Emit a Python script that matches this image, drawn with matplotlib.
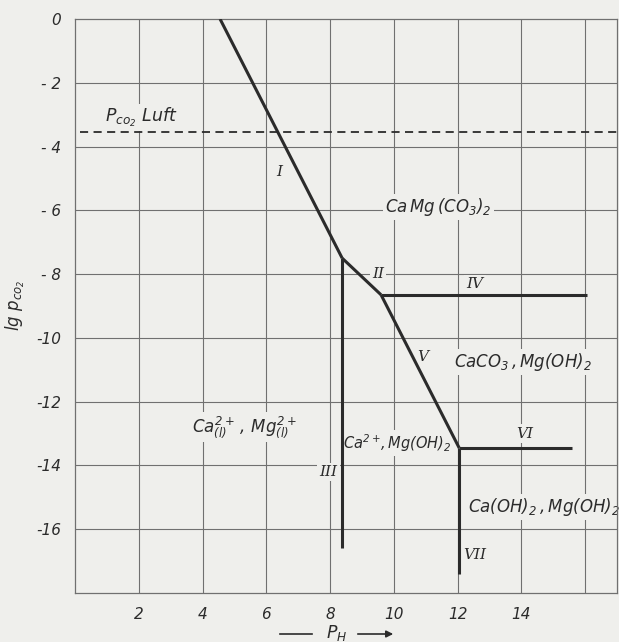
import matplotlib
matplotlib.use("Agg")
import matplotlib.pyplot as plt
from matplotlib.lines import Line2D

BG = "#efefec"
INK = "#2b2b2b"
GRID = "#707070"

plt.rcParams["font.family"] = ["DejaVu Sans"]
plt.rcParams["font.style"] = "italic"
plt.rcParams["mathtext.default"] = "it"

# Phase boundaries of the CaO-MgO-CO2-H2O system (pH, lg pCO2)
line_I_ph = [4.55, 8.38]
line_I_lg = [0.0, -7.5]
line_II_ph = [8.38, 9.6]
line_II_lg = [-7.5, -8.65]
line_III_ph = [8.38, 8.38]
line_III_lg = [-7.5, -16.6]
line_IV_ph = [9.6, 16.05]
line_IV_lg = [-8.65, -8.65]
line_V_ph = [9.6, 12.05]
line_V_lg = [-8.65, -13.45]
line_VI_ph = [12.05, 15.6]
line_VI_lg = [-13.45, -13.45]
line_VII_ph = [12.05, 12.05]
line_VII_lg = [-13.45, -17.4]

# CO2 partial pressure of air
lg_pco2_air = -3.55

x_ticks = [2, 4, 6, 8, 10, 12, 14]
y_ticks = [0, -2, -4, -6, -8, -10, -12, -14, -16]
y_tick_labels = ["0", "- 2", "- 4", "- 6", "- 8", "-10", "-12", "-14", "-16"]

boundary_names = ["I", "II", "III", "IV", "V", "VI", "VII"]
boundary_name_ph = [6.4, 9.5, 7.95, 12.55, 10.9, 14.1, 12.55]
boundary_name_lg = [-4.8, -8.0, -14.2, -8.3, -10.6, -13.0, -16.8]

field_labels = [
    r"$Ca\,Mg\,(CO_3)_2$",
    r"$CaCO_3\,,Mg(OH)_2$",
    r"$Ca^{2+}\!,Mg(OH)_2$",
    r"$Ca(OH)_2\,,Mg(OH)_2$",
    r"$Ca^{2+}_{(l)}\,,\,Mg^{2+}_{(l)}$",
    r"$P_{co_2}\ Luft$",
]
field_ph = [11.4, 14.05, 10.12, 14.72, 5.3, 2.07]
field_lg = [-5.9, -10.75, -13.3, -15.3, -12.8, -3.1]
field_size = [12, 12, 10.5, 12, 12, 12.5]

fig = plt.figure(figsize=(6.19, 6.42), dpi=100, facecolor=BG)
ax = fig.add_axes([75 / 619, 49 / 642, 542 / 619, 574 / 642], facecolor=BG)
ax.set_xlim(0, 17.0)
ax.set_ylim(-18, 0)

# grid
for gx in range(2, 17, 2):
    ax.axvline(gx, color=GRID, lw=0.8, zorder=1)
for gy in range(-16, 0, 2):
    ax.axhline(gy, color=GRID, lw=0.8, zorder=1)
for s in ax.spines.values():
    s.set_color(GRID)
    s.set_linewidth(0.9)

ax.set_xticks(x_ticks)
ax.set_yticks(y_ticks)
ax.set_yticklabels(y_tick_labels)
ax.tick_params(length=0, pad=10, labelsize=11, labelcolor=INK)
for lab in ax.get_xticklabels() + ax.get_yticklabels():
    lab.set_fontstyle("italic")

# air CO2 level
ax.plot([0.15, 17.0], [lg_pco2_air, lg_pco2_air], color=INK, lw=1.3,
        dashes=(4.5, 3), zorder=3, clip_on=False)

# boundaries
for xs, ys in [(line_I_ph, line_I_lg), (line_II_ph, line_II_lg),
               (line_III_ph, line_III_lg), (line_IV_ph, line_IV_lg),
               (line_V_ph, line_V_lg), (line_VI_ph, line_VI_lg),
               (line_VII_ph, line_VII_lg)]:
    ax.plot(xs, ys, color=INK, lw=2.2, solid_capstyle="butt", zorder=4)

box = dict(facecolor=BG, edgecolor="none", pad=1.5)
for name, px, py in zip(boundary_names, boundary_name_ph, boundary_name_lg):
    ax.text(px, py, name, ha="center", va="center", fontsize=11,
            color=INK, family="serif", style="italic", bbox=box, zorder=2)

for txt, px, py, fs in zip(field_labels, field_ph, field_lg, field_size):
    ax.text(px, py, txt, ha="center", va="center", fontsize=fs,
            color=INK, bbox=box, zorder=2)

# axis titles
fig.text(15 / 619, 1 - 305 / 642, r"$lg\ p_{co_2}$", rotation=90,
         ha="center", va="center", fontsize=12, color=INK)
fig.text(337 / 619, 1 - 633 / 642, r"$P_H$", ha="center", va="center",
         fontsize=12.5, color=INK)
fig.add_artist(Line2D([280 / 619, 312 / 619], [1 - 634 / 642, 1 - 634 / 642],
                      color=INK, lw=1.2, transform=fig.transFigure))
ax.annotate("", xy=(396, 642 - 634), xytext=(355, 642 - 634),
            xycoords="figure pixels", textcoords="figure pixels",
            arrowprops=dict(arrowstyle="-|>", color=INK, lw=1.2,
                            mutation_scale=10))

fig.savefig("out.png", dpi=100, facecolor=BG)
